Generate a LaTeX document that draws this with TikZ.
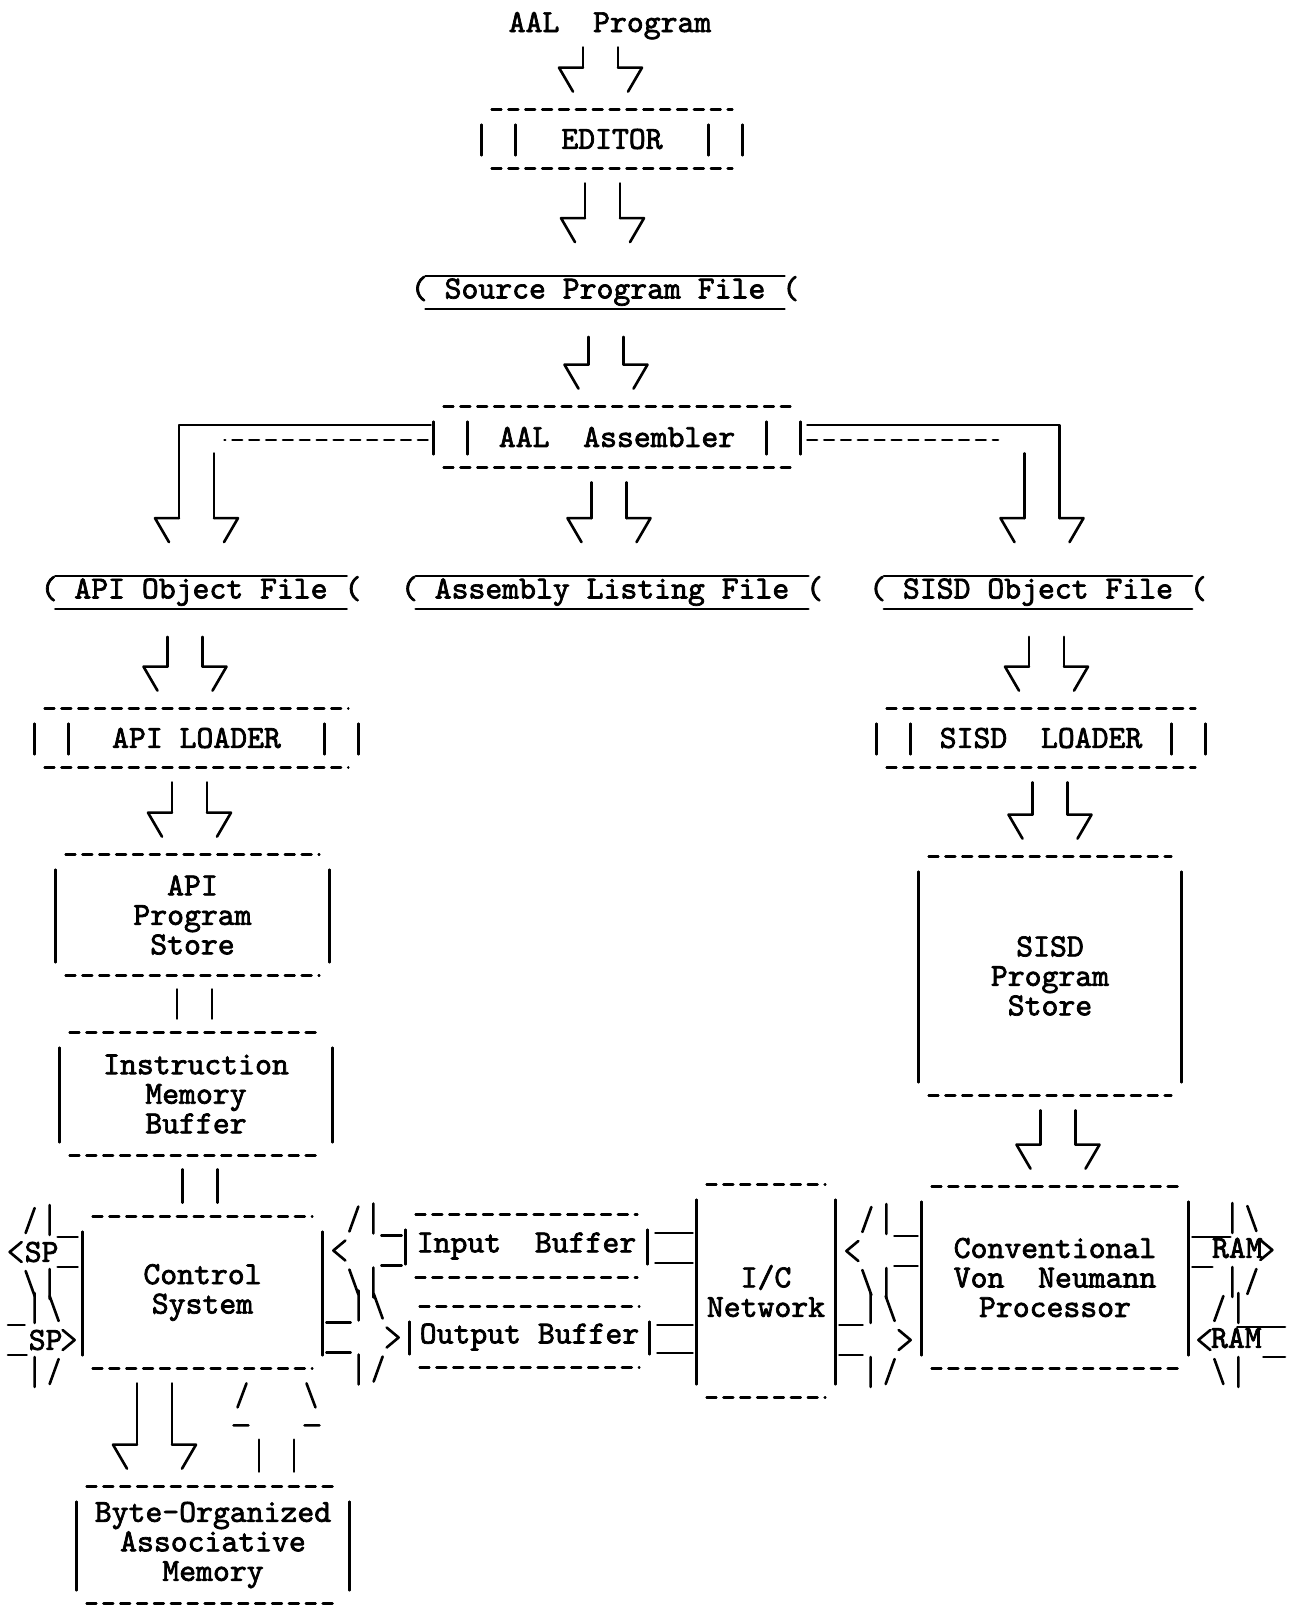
\documentclass[tikz,border=0pt]{standalone}
\usepackage{fontspec}
\setmonofont{lmmono10-regular.otf}[FakeBold=2.2]
\usetikzlibrary{calc}

% box outlines: dashed top and bottom, solid sides
\newcommand{\boxlines}[1]{%
  \draw[twdash] ($(#1.north west)+(10,0)$) -- ($(#1.north east)+(-10,0)$)
                ($(#1.south west)+(10,0)$) -- ($(#1.south east)+(-10,0)$);
  \draw[tw] ($(#1.north west)+(0,15)$) -- ($(#1.south west)+(0,-13)$)
            ($(#1.north east)+(0,15)$) -- ($(#1.south east)+(0,-13)$);}
\newcommand{\dboxlines}[1]{\boxlines{#1}
  \draw[tw] ($(#1.north west)+(34,15)$) -- ($(#1.south west)+(34,-13)$)
            ($(#1.north east)+(-34,15)$) -- ($(#1.south east)+(-34,-13)$);}
\newcommand{\fileln}[1]{%
  \draw[tw] ($(#1.north west)+(15,16)$) -- ($(#1.north east)+(-15,16)$)
            ($(#1.south west)+(15,-13)$) -- ($(#1.south east)+(-15,-13)$);}
% double arrows between nodes
\newcommand{\dnarr}[3][0]{%
  \coordinate (da) at ($(#2.south)+(#1,15)$);
  \coordinate (db) at ($(da |- #3.north)+(0,-18)$);
  \draw[tw] ($(da)+(-17.5,0)$) -- ($(db)+(-17.5,-24)$)
            ($(da)+(17.5,0)$) -- ($(db)+(17.5,-24)$);
  \pic at (db) {dhead};}
\newcommand{\uparr}[3][0]{%
  \coordinate (ua) at ($(#2.north)+(#1,-15)$);
  \coordinate (ub) at ($(ua |- #3.south)+(0,15)$);
  \draw[tw] ($(ua)+(-17.5,0)$) -- ($(ua)+(-17.5,-32)$)
            ($(ua)+(17.5,0)$) -- ($(ua)+(17.5,-32)$);
  \pic[yscale=-1] at (ub) {uhead};}
\newcommand{\vdbl}[3][0]{%
  \draw[tw] ($(#2.south)+(#1-17.5,14)$) -- ($(#2.south |- #3.north)+(#1-17.5,-14)$)
            ($(#2.south)+(#1+17.5,14)$) -- ($(#2.south |- #3.north)+(#1+17.5,-14)$);}
\newcommand{\larr}[3]{%
  \coordinate (tp) at ($(#1.east)+(11,#3)$);
  \pic at (tp) {lhead};
  \draw[tw] ($(tp)+(48,-15)$) -- ($(#2.west |- tp)+(-4,-15)$)
            ($(tp)+(48,15)$) -- ($(#2.west |- tp)+(-4,15)$);}
\newcommand{\rarr}[3]{%
  \coordinate (tp) at ($(#2.west |- #1.east)+(-11,#3)$);
  \pic[xscale=-1] at (tp) {lhead};
  \draw[tw] ($(#1.east |- tp)+(4,-15)$) -- ($(tp)+(-48,-15)$)
            ($(#1.east |- tp)+(4,15)$) -- ($(tp)+(-48,15)$);}
\newcommand{\hdbl}[4]{%
  \draw[tw] ($(#1.east)+(8,#3)$) -- ($(#2.west |- #1.east)+(-4,#3)$)
            ($(#1.east)+(8,#4)$) -- ($(#2.west |- #1.east)+(-4,#4)$);}

\begin{document}
\begin{tikzpicture}[
  x=0.02cm, y=-0.02cm,
  font=\ttfamily\fontsize{18.3}{16.8}\selectfont,
  tw/.style={line width=1.5pt,line cap=round,line join=round},
  twdash/.style={tw,dash pattern=on 5.5pt off 4.1pt},
  sz/.style 2 args={minimum width=#1*0.02cm,minimum height=#2*0.02cm},
  box/.style={inner sep=0pt,align=center},
  file/.style={inner xsep=0pt,inner ysep=0pt,minimum height=61*0.02cm},
  lbl/.style={inner sep=0pt},
  lhead/.pic={\draw[tw] (12,-10) -- (0,0) -- (12,10)
    (16,-19) -- (25,-44) (16,19) -- (25,44)
    (40,-47) -- (40,-17) (40,17) -- (40,47);},
  dhead/.pic={\draw[tw] (-17.5,-24) -- (-41.5,-24) -- (-27.5,0)
    (17.5,-24) -- (41.5,-24) -- (27.5,0);},
  uhead/.pic={\draw[tw] (-30,0) -- (-39,-24) (30,0) -- (39,-24)
    (-43,-42) -- (-28,-42) (28,-42) -- (43,-42);}
]
\useasboundingbox (0,0) rectangle (1295,1605);

\node[lbl,text depth=0pt] (aal) at (610,22) {AAL\ \ Program};
\node[box,sz={260}{58}] (ed) at (612,139) {EDITOR};
\node[file] (spf) at (605,291) {( Source Program File (};
\node[box,sz={366}{60}] (asm) at (617,437) {AAL\ \ Assembler};
\node[file] (apif) at (201,591) {( API Object File (};
\node[file] (alf) at (612,591) {( Assembly Listing File (};
\node[file] (sisdf) at (1038,591) {( SISD Object File (};
\node[box,sz={323}{58}] (apil) at (196.5,738) {API LOADER};
\node[box,sz={328}{58}] (sisdl) at (1041,738) {SISD\ \ LOADER};
\node[box,sz={273}{120}] (aps) at (192.5,915) {API\\Program\\Store};
\node[box,sz={262}{238}] (ssps) at (1050,976) {SISD\\Program\\Store};
\node[box,sz={272}{122}] (imb) at (196,1094) {Instruction\\Memory\\Buffer};
\node[box,sz={239}{151}] (cs) at (202.5,1292.5) {Control\\System};
\node[box,sz={241}{62}] (ib) at (526.5,1246) {Input\ \ Buffer};
\node[box,sz={239}{60}] (ob) at (529.5,1337) {Output Buffer};
\node[box,sz={138}{212}] (icn) at (766,1291) {I/C\\Network};
\node[box,sz={266}{181}] (cvn) at (1055,1277.5) {Conventional\\Von\ \ Neumann\\Processor};
\node[box,sz={272}{116}] (boam) at (213,1545) {Byte-Organized\\Associative\\Memory};

\dboxlines{ed} \dboxlines{asm} \dboxlines{apil} \dboxlines{sisdl}
\boxlines{aps} \boxlines{ssps} \boxlines{imb} \boxlines{cs} \boxlines{boam}
\boxlines{ib} \boxlines{ob} \boxlines{icn} \boxlines{cvn}
\fileln{spf} \fileln{apif} \fileln{alf} \fileln{sisdf}

\dnarr[-9.5]{aal}{ed}
\dnarr[-9.5]{ed}{spf}
\dnarr[1]{spf}{asm}
\dnarr[-8]{asm}{alf}

\coordinate (lb) at ($(apif.north)+(-4.5,-18)$);
\draw[tw] ($(asm.west)+(-3,-12)$) -| ($(lb)+(-17.5,-24)$);
\draw[twdash] ($(asm.west)+(-6,3)$) -- ($(lb |- asm.west)+(28,3)$);
\draw[tw] ($(lb |- asm.south)+(17.5,-14)$) -- ($(lb)+(17.5,-24)$);
\pic at (lb) {dhead};
\coordinate (rb) at ($(sisdf.north)+(4,-18)$);
\draw[tw] ($(asm.east)+(7,-12)$) -| ($(rb)+(17.5,-24)$);
\draw[twdash] ($(asm.east)+(7,3)$) -- ($(rb |- asm.east)+(-44,3)$);
\draw[tw] ($(rb |- asm.south)+(-17.5,-14)$) -- ($(rb)+(-17.5,-24)$);
\pic at (rb) {dhead};

\dnarr[-16]{apif}{apil}
\dnarr[-7]{apil}{aps}
\vdbl[2]{aps}{imb}
\vdbl[4]{imb}{cs}
\dnarr[-48]{cs}{boam}
\uparr[63.5]{boam}{cs}
\dnarr[8.5]{sisdf}{sisdl}
\dnarr[9]{sisdl}{ssps}
\dnarr[8]{ssps}{cvn}

\larr{cs}{ib}{-42}
\rarr{cs}{ob}{45}
\hdbl{ib}{icn}{-13}{17}
\hdbl{ob}{icn}{-12}{16}
\larr{icn}{cvn}{-40}
\rarr{icn}{cvn}{49}

\coordinate (spo) at ($(cs.west)+(-73,-40.5)$);
\pic at (spo) {lhead};
\node[lbl] (spout) at ($(spo)+(32,0)$) {SP};
\draw[tw] ($(spo)+(48,-15)$) -- ($(cs.west |- spo)+(-5,-15)$)
          ($(spo)+(48,15)$) -- ($(cs.west |- spo)+(-5,15)$);
\coordinate (spi) at ($(cs.west)+(-8,47.5)$);
\coordinate (spsrc) at (8,0 |- spi);
\pic[xscale=-1] at (spi) {lhead};
\node[lbl] (spin) at ($(spi)+(-29,0)$) {SP};
\draw[tw] ($(spsrc)+(0,-15)$) -- ($(spi)+(-50,-15)$)
          ($(spsrc)+(0,15)$) -- ($(spi)+(-48,15)$);

\coordinate (ramo) at ($(cvn.east)+(84,-27.5)$);
\pic[xscale=-1] at (ramo) {lhead};
\node[lbl] (ramout) at ($(ramo)+(-35,-2)$) {RAM};
\draw[tw] ($(cvn.east |- ramo)+(4,-13)$) -- ($(ramo)+(-42,-13)$)
          ($(cvn.east |- ramo)+(4,17)$) -- ($(ramo)+(-60,17)$);
\coordinate (rami) at ($(cvn.east)+(10,62.5)$);
\coordinate (ramdst) at (1285,0 |- rami);
\pic at (rami) {lhead};
\node[lbl] (ramin) at ($(rami)+(38,-2)$) {RAM};
\draw[tw] ($(rami)+(39,-13)$) -- ($(ramdst)+(0,-13)$)
          ($(rami)+(65,17)$) -- ($(ramdst)+(0,17)$);
\end{tikzpicture}
\end{document}
